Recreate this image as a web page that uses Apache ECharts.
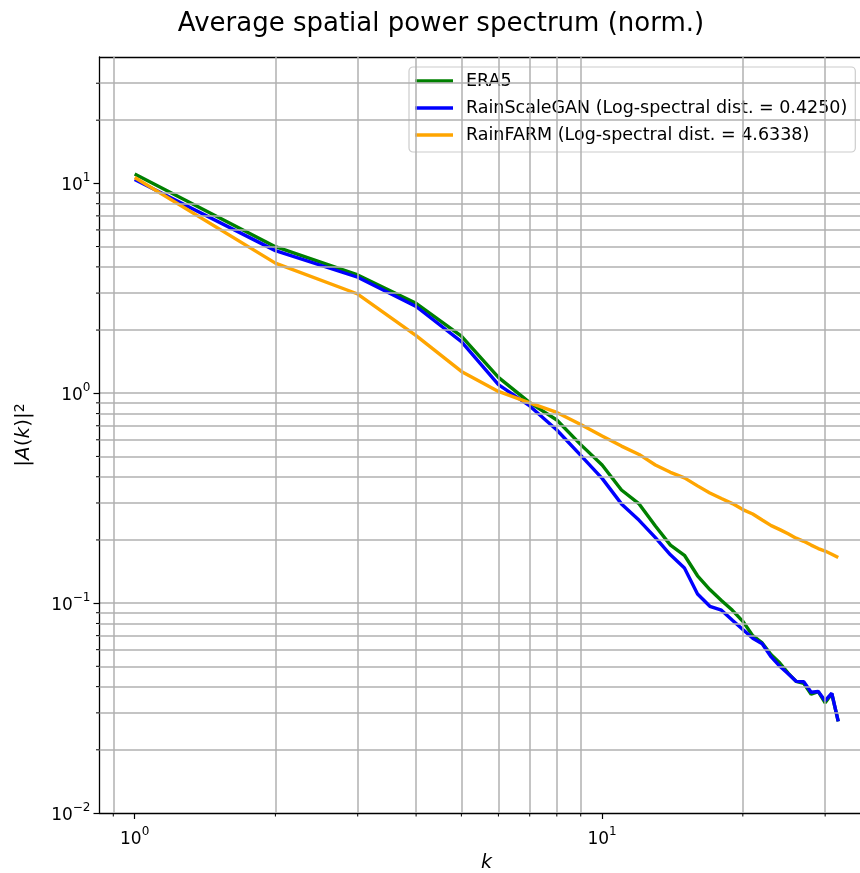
<!DOCTYPE html>
<html><head><meta charset="utf-8">
<script src="https://cdn.jsdelivr.net/npm/echarts@6/dist/echarts.min.js"></script>
<style>html,body{margin:0;padding:0;background:#fff}#c{width:860px;height:873px}</style>
</head><body><div id="c"></div>
<script>
const titleText = 'Average spatial power spectrum (norm.)';
const seriesNames = ['ERA5', 'RainScaleGAN (Log-spectral dist. = 0.4250)', 'RainFARM (Log-spectral dist. = 4.6338)'];
const seriesColors = ['#008000', '#0000ff', '#ffa500'];
const kValues = [1,2,3,4,5,6,7,8,9,10,11,12,13,14,15,16,17,18,19,20,21,22,23,24,25,26,27,28,29,30,31,32];
const era5 = [11.07, 4.99, 3.66, 2.68, 1.87, 1.19, 0.902, 0.746, 0.569, 0.455, 0.346, 0.297, 0.233, 0.189, 0.169, 0.135, 0.116, 0.103, 0.0924, 0.0819, 0.070, 0.0646, 0.0568, 0.0518, 0.0464, 0.0424, 0.0415, 0.0368, 0.0379, 0.0335, 0.0370, 0.0273];
const rainScaleGAN = [10.43, 4.78, 3.57, 2.59, 1.76, 1.10, 0.870, 0.668, 0.506, 0.393, 0.297, 0.248, 0.205, 0.170, 0.147, 0.1106, 0.0966, 0.0925, 0.0829, 0.0748, 0.068, 0.064, 0.0554, 0.050, 0.0461, 0.0424, 0.0422, 0.0376, 0.0379, 0.0343, 0.0372, 0.0273];
const rainFARM = [10.66, 4.17, 2.97, 1.88, 1.27, 1.02, 0.90, 0.81, 0.71, 0.625, 0.56, 0.511, 0.455, 0.42, 0.395, 0.362, 0.335, 0.315, 0.298, 0.279, 0.266, 0.249, 0.234, 0.224, 0.214, 0.204, 0.197, 0.189, 0.182, 0.177, 0.171, 0.165];
const xMajorTicks = [1, 10];
const yMajorTicks = [0.01, 0.1, 1, 10];
const xMinorTicks = [0.9, 2, 3, 4, 5, 6, 7, 8, 9, 20, 30];
const yMinorTicks = [0.02,0.03,0.04,0.05,0.06,0.07,0.08,0.09,0.2,0.3,0.4,0.5,0.6,0.7,0.8,0.9,2,3,4,5,6,7,8,9,20,30];
const xRange = [0.8409, 38.05];
const yRange = [0.01, 40];

const FONT = 'DejaVu Sans';
const GRID_COLOR = '#b0b0b0';
const GRID_W = 1.5;
function powLabel(v) {
  const e = Math.round(Math.log10(v));
  if (Math.abs(v / Math.pow(10, e) - 1) > 1e-6) return '';
  return '{b|10}{s|' + (e < 0 ? '\u2212' + (-e) : e) + '}';
}
const labelRich = {
  b: { fontFamily: FONT, fontSize: 17, color: '#000', verticalAlign: 'bottom', lineHeight: 22 },
  s: { fontFamily: FONT, fontSize: 12, color: '#000', verticalAlign: 'top', lineHeight: 22 }
};

const chart = echarts.init(document.getElementById('c'), null, { renderer: 'canvas' });
const dataSeries = [era5, rainScaleGAN, rainFARM].map((arr, i) => ({
  name: seriesNames[i],
  type: 'line',
  z: 3,
  data: kValues.map((k, j) => [k, arr[j]]),
  showSymbol: false,
  symbol: 'none',
  color: seriesColors[i],
  lineStyle: { color: seriesColors[i], width: 3.4 },
  emphasis: { disabled: true },
  animation: false
}));

const minorLines = {
  type: 'line', z: 1, data: [], silent: true, animation: false,
  markLine: {
    silent: true, symbol: 'none', animation: false,
    label: { show: false },
    lineStyle: { color: GRID_COLOR, width: GRID_W, type: 'solid' },
    emphasis: { disabled: true },
    data: xMinorTicks.map(v => ({ xAxis: v })).concat(yMinorTicks.map(v => ({ yAxis: v })))
  }
};

const minorTickMarks = {
  type: 'custom', z: 4, silent: true, clip: false, animation: false,
  data: yMinorTicks.map(v => [xRange[0], v, 0]).concat(xMinorTicks.map(v => [v, yRange[0], 1])),
  renderItem: function (params, api) {
    const p = api.coord([api.value(0), api.value(1)]);
    const vertical = api.value(2) === 1;
    return {
      type: 'line',
      shape: vertical ? { x1: p[0], y1: p[1], x2: p[0], y2: p[1] + 3.5 } : { x1: p[0], y1: p[1], x2: p[0] - 3.5, y2: p[1] },
      style: { stroke: '#000', lineWidth: 1 }
    };
  }
};

chart.setOption({
  animation: false,
  backgroundColor: '#fff',
  title: {
    text: titleText, left: 436, top: 6, textAlign: 'center',
    textStyle: { fontFamily: FONT, fontSize: 26, fontWeight: 'normal', color: '#000' }
  },
  legend: {
    orient: 'vertical', left: 409, top: 67,
    padding: [4, 8, 7, 6],
    itemGap: 7, itemWidth: 38, itemHeight: 3.5, icon: 'rect',
    backgroundColor: 'rgba(255,255,255,0.8)', borderColor: '#cccccc', borderWidth: 1.2, borderRadius: 4,
    textStyle: { fontFamily: FONT, fontSize: 17.5, color: '#000', lineHeight: 20, padding: [0, 0, 0, 8] },
    itemStyle: { borderWidth: 0 },
    data: seriesNames
  },
  grid: { left: 99.5, top: 57, right: -13.4, bottom: 60, containLabel: false, outerBoundsMode: 'none' },
  xAxis: [{
    type: 'log', logBase: 10, min: xRange[0], max: xRange[1],
    name: 'k', nameLocation: 'middle', nameGap: 41,
    nameTextStyle: { fontFamily: FONT, fontSize: 19, fontStyle: 'italic', color: '#000' },
    axisLine: { show: true, lineStyle: { color: '#000', width: 1.3 } },
    axisTick: { show: true, length: 6, lineStyle: { color: '#000', width: 1.2 }, customValues: xMajorTicks },
    axisLabel: { margin: 13, formatter: powLabel, rich: labelRich, customValues: xMajorTicks },
    splitLine: { show: true, showMinLine: false, showMaxLine: false, lineStyle: { color: GRID_COLOR, width: GRID_W } },
    minorTick: { show: false }, minorSplitLine: { show: false }
  }, {
    type: 'log', logBase: 10, min: xRange[0], max: xRange[1], position: 'top',
    axisLine: { show: true, lineStyle: { color: '#000', width: 1.3 } },
    axisTick: { show: false }, axisLabel: { show: false }, splitLine: { show: false }
  }],
  yAxis: {
    type: 'log', logBase: 10, min: yRange[0], max: yRange[1],
    name: '|{i|A}({i|k})|{s|2}', nameLocation: 'middle', nameGap: 66, nameRotate: 90,
    nameTextStyle: {
      fontFamily: FONT, fontSize: 20, color: '#000',
      rich: {
        i: { fontFamily: FONT, fontSize: 20, fontStyle: 'italic', color: '#000' },
        s: { fontFamily: FONT, fontSize: 14, color: '#000', verticalAlign: 'top' }
      }
    },
    axisLine: { show: true, lineStyle: { color: '#000', width: 1.3 } },
    axisTick: { show: true, length: 6, lineStyle: { color: '#000', width: 1.2 }, customValues: yMajorTicks },
    axisLabel: { margin: 9, formatter: powLabel, rich: labelRich, customValues: yMajorTicks },
    splitLine: { show: true, showMinLine: false, showMaxLine: false, lineStyle: { color: GRID_COLOR, width: GRID_W } },
    minorTick: { show: false }, minorSplitLine: { show: false }
  },
  series: [minorLines].concat(dataSeries).concat([minorTickMarks])
});
</script></body></html>
